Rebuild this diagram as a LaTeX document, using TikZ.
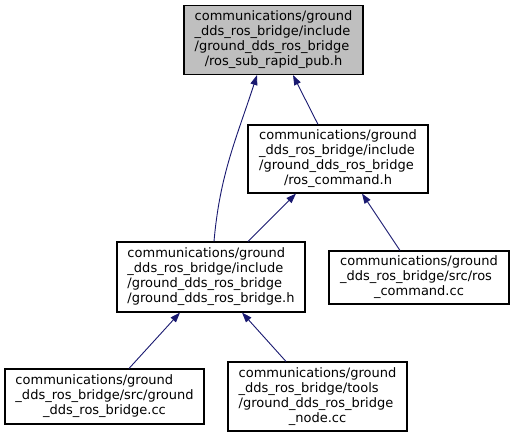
\documentclass[tikz,border=0pt]{standalone}
\usepackage{fontspec}
\setmainfont{DejaVu Sans}
\usepackage{xcolor}
\definecolor{EdgeBlue}{RGB}{25, 25, 112}
\definecolor{FocusGray}{RGB}{191, 191, 191}
\usetikzlibrary{arrows.meta}

% label: left-aligned lines, last line centred
\newcommand{\flabel}[2]{\begin{tabular}{@{}l@{}}#1\\\multicolumn{1}{@{}c@{}}{#2}\end{tabular}}

\begin{document}
\begin{tikzpicture}[
    x=1pt, y=-1pt,
    file/.style={rectangle, draw=black, line width=1.1pt, inner sep=0pt,
        font=\fontsize{13}{15}\selectfont, minimum width=179pt, minimum height=69pt},
    focus/.style={file, fill=FocusGray},
    dep/.style={{Triangle[length=10pt, width=7pt]}-, line width=0.9pt, EdgeBlue}
]
\useasboundingbox (0,0) rectangle (514,437);

% Files
\node[focus] (rapid) at (273.5, 40)
    {\flabel{communications/ground\\\_dds\_ros\_bridge/include\\/ground\_dds\_ros\_bridge}{/ros\_sub\_rapid\_pub.h}};
\node[file, minimum width=180pt, minimum height=68pt] (cmd) at (338, 159)
    {\flabel{communications/ground\\\_dds\_ros\_bridge/include\\/ground\_dds\_ros\_bridge}{/ros\_command.h}};
\node[file, minimum width=188pt, minimum height=70pt] (bridgeh) at (211, 277)
    {\flabel{communications/ground\\\_dds\_ros\_bridge/include\\/ground\_dds\_ros\_bridge}{/ground\_dds\_ros\_bridge.h}};
\node[file, minimum width=180pt, minimum height=53pt] (cmdcc) at (419, 277.5)
    {\flabel{communications/ground\\\_dds\_ros\_bridge/src/ros}{\_command.cc}};
\node[file, minimum width=199pt, minimum height=55pt] (bridgecc) at (104.5, 396.5)
    {\flabel{communications/ground\\\_dds\_ros\_bridge/src/ground}{\_dds\_ros\_bridge.cc}};
\node[file] (nodecc) at (317.5, 396.5)
    {\flabel{communications/ground\\\_dds\_ros\_bridge/tools\\/ground\_dds\_ros\_bridge}{\_node.cc}};

% Includes
\draw[dep] ([xshift=19.5pt]rapid.south) -- ([xshift=-20pt]cmd.north);
\draw[dep] ([xshift=-16.5pt]rapid.south) to[out=-108, in=85] ([xshift=3pt]bridgeh.north);
\draw[dep] ([xshift=-42pt]cmd.south) -- ([xshift=37pt]bridgeh.north);
\draw[dep] ([xshift=24pt]cmd.south) -- ([xshift=-19pt]cmdcc.north);
\draw[dep] ([xshift=-31pt]bridgeh.south) -- ([xshift=24.5pt]bridgecc.north);
\draw[dep] ([xshift=31pt]bridgeh.south) -- ([xshift=-31.5pt]nodecc.north);

\end{tikzpicture}
\end{document}
